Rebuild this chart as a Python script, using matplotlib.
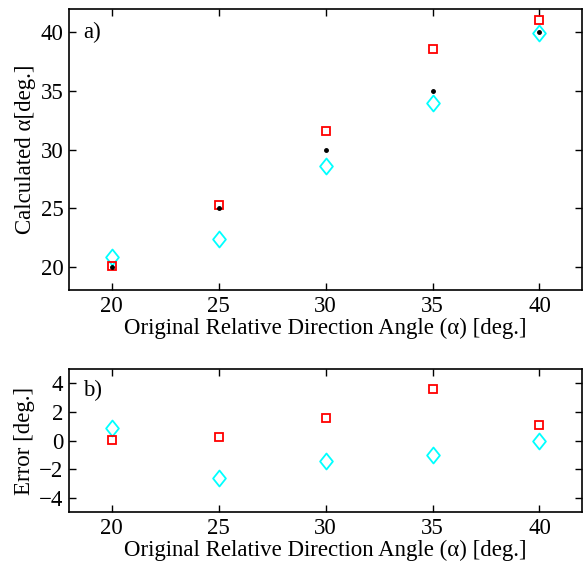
import matplotlib
matplotlib.use("Agg")
import matplotlib.pyplot as plt
import numpy as np
from matplotlib.path import Path

plt.rcParams['font.family'] = ['Liberation Serif', 'DejaVu Serif']
plt.rcParams['font.size'] = 16.5
plt.rcParams['axes.linewidth'] = 1.2

# Original relative direction angles [deg.]
alpha_true = [20, 25, 30, 35, 40]
# Calculated angles from the two methods [deg.]
calc_square = [20.05, 25.24, 31.6, 38.6, 41.1]
calc_diamond = [20.85, 22.35, 28.55, 34.0, 39.98]

xticks = [20, 25, 30, 35, 40]
yticks_top = [20, 25, 30, 35, 40]
yticks_bot = [-4, -2, 0, 2, 4]

err_square = np.array(calc_square) - np.array(alpha_true)
err_diamond = np.array(calc_diamond) - np.array(alpha_true)

# MATLAB-style diamond (slightly taller than wide)
diamond = Path([(0, 1), (0.8, 0), (0, -1), (-0.8, 0), (0, 1)],
               [Path.MOVETO, Path.LINETO, Path.LINETO, Path.LINETO, Path.CLOSEPOLY])

fig = plt.figure(figsize=(5.84, 5.67), dpi=100)
ax1 = fig.add_axes([0.118, 0.4885, 0.879, 0.4956])
ax2 = fig.add_axes([0.118, 0.097, 0.879, 0.252])

sq_kw = dict(marker='s', ms=6.2, mfc='none', mec='red', mew=1.3, ls='none')
di_kw = dict(marker=diamond, ms=11.5, mfc='none', mec='cyan', mew=1.3, ls='none')

ax1.plot(alpha_true, calc_diamond, **di_kw)
ax1.plot(alpha_true, calc_square, **sq_kw)
ax1.plot(alpha_true, alpha_true, marker='o', ms=2.5, color='black', ls='none')

ax2.plot(alpha_true, err_diamond, **di_kw)
ax2.plot(alpha_true, err_square, **sq_kw)

for ax in (ax1, ax2):
    ax.set_xlim(18, 42)
    ax.set_xticks(xticks)
    ax.tick_params(direction='in', top=True, right=True, length=5, width=1,
                   labelsize=16.5, pad=4)
    ax.set_xlabel('Original Relative Direction Angle (α) [deg.]', fontsize=16.5, labelpad=1)

ax1.set_ylim(18, 42)
ax1.set_yticks(yticks_top)
ax1.set_ylabel('Calculated α[deg.]', fontsize=16.5, labelpad=3)
ax1.text(0.027, 0.918, 'a)', transform=ax1.transAxes, fontsize=16.5, va='center', ha='left')

ax2.set_ylim(-5, 5)
ax2.set_yticks(yticks_bot)
ax2.set_ylabel('Error [deg.]', fontsize=16.5, labelpad=3)
ax2.text(0.027, 0.853, 'b)', transform=ax2.transAxes, fontsize=16.5, va='center', ha='left')

fig.savefig('out.png', dpi=100)
